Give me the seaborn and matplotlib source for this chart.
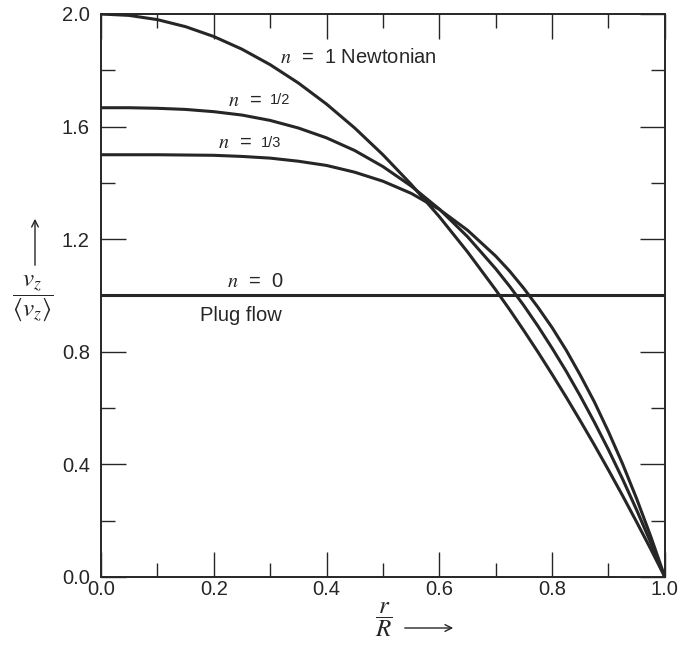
import matplotlib
matplotlib.use("Agg")
import matplotlib.pyplot as plt
import pandas as pd
import seaborn as sns

r_ratio = [0.0, 0.05, 0.1, 0.15, 0.2, 0.25, 0.3, 0.35, 0.4, 0.45, 0.5,
           0.55, 0.6, 0.65, 0.7, 0.725, 0.75, 0.775, 0.8, 0.825, 0.85,
           0.875, 0.9, 0.925, 0.95, 0.975, 1.0]

# v_z / <v_z> for each power-law index n
v_newtonian = [2.0, 1.995, 1.98, 1.955, 1.92, 1.875, 1.82, 1.755, 1.68, 1.595, 1.5,
               1.395, 1.28, 1.155, 1.02, 0.949, 0.875, 0.799, 0.72, 0.639, 0.555,
               0.469, 0.38, 0.289, 0.195, 0.099, 0.0]
v_half = [1.667, 1.667, 1.665, 1.661, 1.653, 1.641, 1.622, 1.595, 1.56, 1.515, 1.458,
          1.389, 1.307, 1.209, 1.095, 1.032, 0.964, 0.891, 0.813, 0.731, 0.643,
          0.55, 0.452, 0.348, 0.238, 0.122, 0.0]
v_third = [1.5, 1.5, 1.5, 1.499, 1.498, 1.494, 1.488, 1.477, 1.462, 1.438, 1.406,
           1.363, 1.306, 1.232, 1.14, 1.086, 1.025, 0.958, 0.886, 0.806, 0.717,
           0.622, 0.516, 0.402, 0.278, 0.144, 0.0]
plug_r = [0.0, 1.0]
plug_v = [1.0, 1.0]

x_ticks = [0.0, 0.2, 0.4, 0.6, 0.8, 1.0]
y_ticks = [0.0, 0.4, 0.8, 1.2, 1.6, 2.0]

frames = [
    pd.DataFrame({"r": r_ratio, "v": v_newtonian, "n": "1"}),
    pd.DataFrame({"r": r_ratio, "v": v_half, "n": "1/2"}),
    pd.DataFrame({"r": r_ratio, "v": v_third, "n": "1/3"}),
    pd.DataFrame({"r": plug_r, "v": plug_v, "n": "0"}),
]
profiles = pd.concat(frames, ignore_index=True)

sns.set_theme(style="ticks")
plt.rcParams["font.family"] = ["Liberation Sans", "DejaVu Sans"]
plt.rcParams["mathtext.fontset"] = "stix"

ink = "#262626"
fig = plt.figure(figsize=(6.94, 6.48), dpi=100)
ax = fig.add_axes([0.1455, 0.1096, 0.8125, 0.8688])

sns.lineplot(data=profiles, x="r", y="v", hue="n", palette=[ink] * 4,
             estimator=None, sort=False, linewidth=2.2, legend=False, ax=ax)

ax.set_xlim(0, 1)
ax.set_ylim(0, 2)
ax.set_xticks(x_ticks)
ax.set_yticks(y_ticks)
ax.set_xticks([0.1, 0.3, 0.5, 0.7, 0.9], minor=True)
ax.set_yticks([0.2, 0.6, 1.0, 1.4, 1.8], minor=True)
ax.set_xticklabels([f"{t:.1f}" for t in x_ticks])
ax.set_yticklabels([f"{t:.1f}" for t in y_ticks])
ax.tick_params(which="both", direction="in", top=True, right=True,
               colors=ink, labelsize=14.5, width=1.0)
ax.tick_params(axis="y", which="major", length=18, pad=8)
ax.tick_params(axis="x", which="major", length=18, pad=2)
ax.tick_params(which="minor", length=10)
for spine in ax.spines.values():
    spine.set_color(ink)
    spine.set_linewidth(1.4)
ax.set_xlabel("")
ax.set_ylabel("")

# curve annotations
ax.text(0.317, 1.844, r"$n$  =  1 Newtonian", fontsize=14.5, color=ink, va="center")
ax.text(0.225, 1.694, r"$n$  =", fontsize=14.5, color=ink, va="center")
ax.text(0.300, 1.694, "1/2", fontsize=10.5, color=ink, va="center")
ax.text(0.208, 1.542, r"$n$  =", fontsize=14.5, color=ink, va="center")
ax.text(0.283, 1.542, "1/3", fontsize=10.5, color=ink, va="center")
ax.text(0.223, 1.05, r"$n$  =  0", fontsize=14.5, color=ink, va="center")
ax.text(0.176, 0.93, "Plug flow", fontsize=14.5, color=ink, va="center")

# axis titles with arrows, as in the original figure
fig.text(33 / 694, 1 - 298 / 648, r"$\dfrac{v_z}{\langle v_z \rangle}$",
         fontsize=18, color=ink, ha="center", va="center")
fig.add_artist(matplotlib.patches.FancyArrowPatch(
    (35 / 694, 1 - 268 / 648), (35 / 694, 1 - 216 / 648),
    transform=fig.transFigure, arrowstyle="->", mutation_scale=12,
    color=ink, linewidth=1.0))
fig.text(384 / 694, 1 - 620 / 648, r"$\dfrac{r}{R}$",
         fontsize=18, color=ink, ha="center", va="center")
fig.add_artist(matplotlib.patches.FancyArrowPatch(
    (402 / 694, 1 - 628 / 648), (456 / 694, 1 - 628 / 648),
    transform=fig.transFigure, arrowstyle="->", mutation_scale=12,
    color=ink, linewidth=1.0))

fig.savefig("out.png", dpi=100)
plt.close(fig)
